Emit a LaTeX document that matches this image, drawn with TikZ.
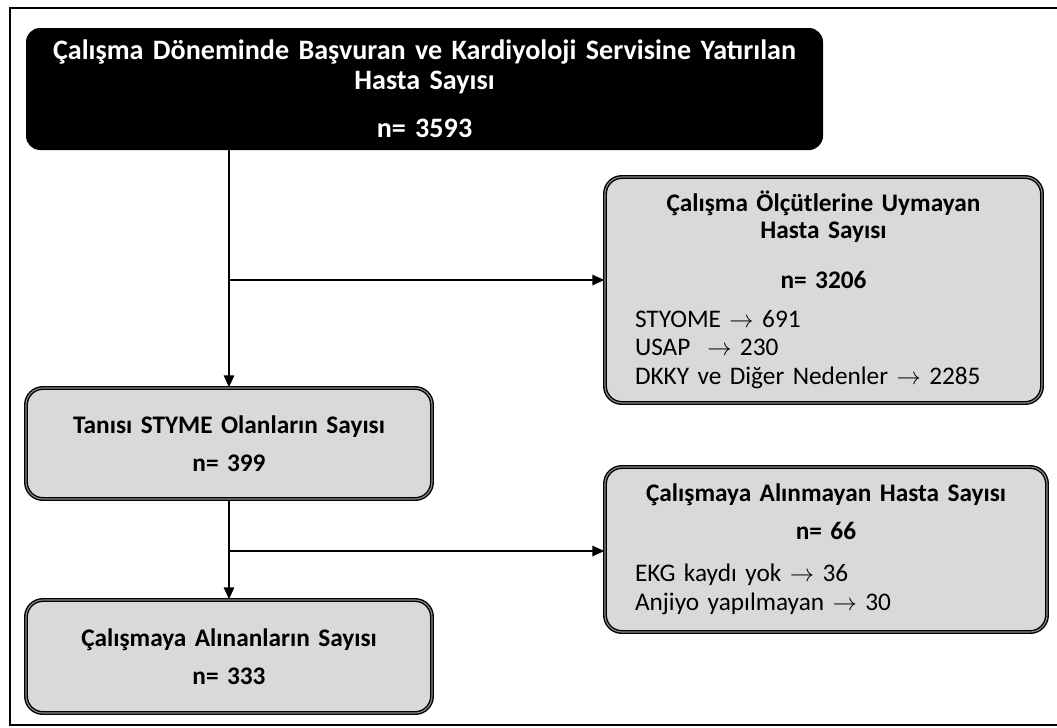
\documentclass[tikz,border=0pt]{standalone}
\usepackage{fontspec}
\setmainfont{Carlito}
\usetikzlibrary{arrows.meta,positioning}
\definecolor{boxgray}{HTML}{D9D9D9}
\definecolor{rim}{HTML}{8C8C8C}

\begin{document}
\begin{tikzpicture}[
    every node/.style={font=\fontsize{18}{20.6}\selectfont, text=black},
    grbox/.style={fill=boxgray, draw=black, line width=1pt, double=rim, double distance=0.8pt, rounded corners=12pt, inner xsep=0.75cm, inner ysep=0pt},
    arrow/.style={-{Triangle[length=3mm, width=2.6mm]}, line width=1.2pt, color=black}
]
\clip (0,0) rectangle (26.425,-18.175);
\draw[line width=1.6pt] (27,-0.2) -- (0.25,-0.2) -- (0.25,-18.125) -- (27,-18.125);
\node[fill=black, rounded corners=10pt, text=white, font=\fontsize{20}{21.5}\selectfont\bfseries, text width=19.5cm, align=center, minimum width=19.925cm, minimum height=3.05cm, inner xsep=0pt] (total) at (10.6125,-2.225) {Çalışma Döneminde Başvuran ve Kardiyoloji Servisine Yatırılan\\Hasta Sayısı\\[12.5pt]n= 3593};
\node[grbox, text width=9.425cm, minimum height=5.65cm] (uymayan) at (20.5875,-7.25) {{\centering\bfseries Çalışma Ölçütlerine Uymayan\\[-1.5pt]Hasta Sayısı\\[15pt]n= 3206\par}\vspace{7pt}{\raggedright STYOME $\rightarrow$ 691\\USAP\ \ $\rightarrow$ 230\\DKKY ve Diğer Nedenler $\rightarrow$ 2285\par}};
\node[grbox, text width=8.65cm, minimum height=2.775cm, align=center, font=\fontsize{18}{20.6}\selectfont\bfseries] (styme) at (5.725,-11.0875) {Tanısı STYME Olanların Sayısı\\[6pt]n= 399};
\node[grbox, text width=9.55cm, minimum height=4.125cm] (alinmayan) at (20.65,-13.7375) {{\centering\bfseries Çalışmaya Alınmayan Hasta Sayısı\\[6.5pt]n= 66\par}\vspace{9pt}{\raggedright EKG kaydı yok $\rightarrow$ 36\\Anjiyo yapılmayan $\rightarrow$ 30\par}};
\node[grbox, text width=8.65cm, minimum height=2.825cm, align=center, font=\fontsize{18}{20.6}\selectfont\bfseries] (alinan) at (5.725,-16.4125) {Çalışmaya Alınanların Sayısı\\[6.5pt]n= 333};
\coordinate (br1) at (5.75,-7.0);
\coordinate (br2) at (5.75,-13.775);
\draw[arrow] (styme.north |- total.south) -- (styme.north);
\draw[arrow] (br1) -- (br1 -| uymayan.west);
\draw[arrow] (styme.south) -- (alinan.north);
\draw[arrow] (br2) -- (br2 -| alinmayan.west);
\end{tikzpicture}
\end{document}
